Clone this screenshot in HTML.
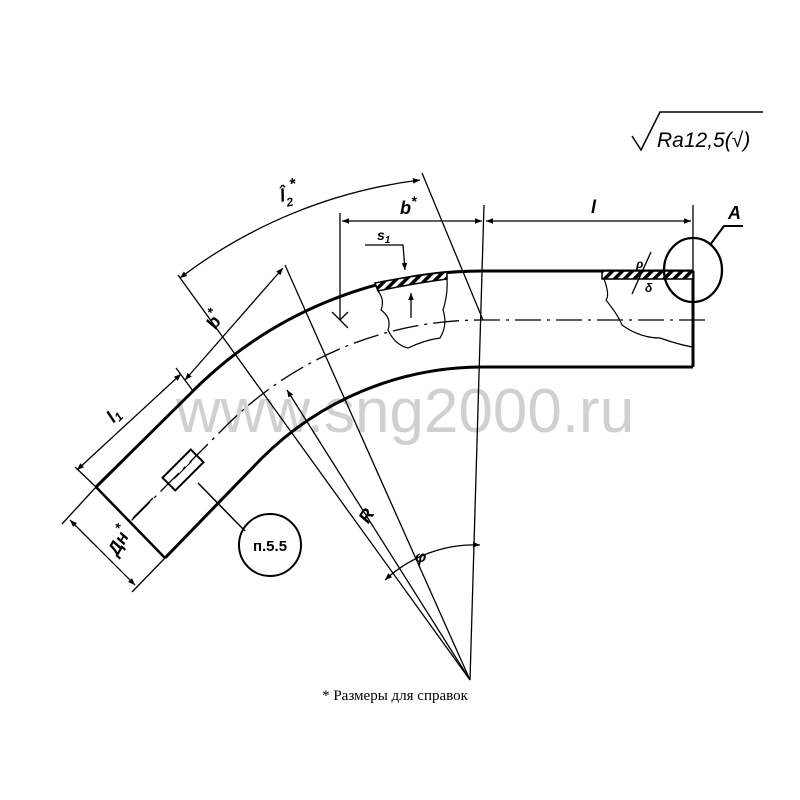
<!DOCTYPE html>
<html><head><meta charset="utf-8"><style>
html,body{margin:0;padding:0;background:#fff;}
svg{display:block}
text{font-family:"Liberation Sans",sans-serif;fill:#000}
</style></head><body>
<svg width="800" height="800" viewBox="0 0 800 800" xmlns="http://www.w3.org/2000/svg">
<defs>
<marker id="ar" viewBox="0 0 10 10" refX="10" refY="5" markerWidth="10" markerHeight="7" orient="auto-start-reverse" markerUnits="userSpaceOnUse"><path d="M0,1 L10,5 L0,9 z" fill="#000"/></marker>
<pattern id="hatch" width="7" height="7" patternUnits="userSpaceOnUse" patternTransform="rotate(45)"><rect width="7" height="7" fill="#fff"/><rect width="3.5" height="7" fill="#000"/></pattern>
</defs>
<!-- watermark -->
<text x="405" y="432" font-size="62" fill="#cfcfcf" style="fill:#d0d0d0" text-anchor="middle">www.sng2000.ru</text>

<g fill="none" stroke="#000">
<!-- pipe outer -->
<path d="M693,271 L482,271 A409,409 0 0 0 193,391 L96,487" stroke-width="3"/>
<path d="M693,367 L482,367 A313,313 0 0 0 261,459 L165,558" stroke-width="3"/>
<path d="M693,271 L693,367" stroke-width="3"/>
<path d="M96,487 L165,558" stroke-width="2.5"/>
<!-- centerline -->
<path d="M705,320 L482,320 A360,360 0 0 0 227,425 L130,522" stroke-width="1.3" stroke-dasharray="26,6,3,6"/>
<!-- vertical axis -->
<path d="M484,205 L470,680" stroke-width="1.3"/>
<!-- radial lines -->
<path d="M178,275 L470,680" stroke-width="1.3"/>
<path d="M285,265 L470,680" stroke-width="1.3"/>
<path d="M422,173 L483,320" stroke-width="1.3"/>
<path d="M287,390 L470,680" stroke-width="1.3" marker-start="url(#ar)"/>
<!-- extension lines -->
<path d="M340,213 L340,320" stroke-width="1.3"/>
<path d="M693,205 L693,271" stroke-width="1.3"/>
<path d="M332,312 L348,328 M340,320 L348,312" stroke-width="1.3"/>
<!-- horizontal dims -->
<path d="M342,221 L482,221" stroke-width="1.3" marker-start="url(#ar)" marker-end="url(#ar)"/>
<path d="M486,221 L691,221" stroke-width="1.3" marker-start="url(#ar)" marker-end="url(#ar)"/>
<!-- l2 arc -->
<path d="M180,278 A497,497 0 0 1 420,180" stroke-width="1.3" marker-start="url(#ar)" marker-end="url(#ar)"/>
<!-- phi arc -->
<path d="M385,580 A132,132 0 0 1 480,545" stroke-width="1.3" marker-start="url(#ar)" marker-end="url(#ar)"/>
<!-- inclined dims -->
<path d="M185,380 L283,268" stroke-width="1.3" marker-start="url(#ar)" marker-end="url(#ar)"/>
<path d="M77,470 L181,374" stroke-width="1.3" marker-start="url(#ar)" marker-end="url(#ar)"/>
<path d="M70,520 L135,585" stroke-width="1.3" marker-start="url(#ar)" marker-end="url(#ar)"/>
<path d="M75,467 L96,487 M165,558 L132,592 M96,487 L62,524" stroke-width="1.3"/>
<path d="M176,368 L193,391" stroke-width="1.3"/>
<!-- hatched wall sections -->
<path d="M375,283 Q410,276 447,272 L447,279 Q410,284 378,291 z" fill="url(#hatch)" stroke-width="1.5"/>
<rect x="602" y="271" width="91" height="8" fill="url(#hatch)" stroke-width="1.5"/>
<!-- breakouts -->
<path d="M378,291 Q385,300 381,310 Q392,318 388,330 Q395,345 408,348 Q425,340 440,338 Q448,325 443,310 Q448,295 447,279" stroke-width="1.2"/>
<path d="M604,279 Q610,295 606,300 Q618,315 622,325 Q640,338 660,338 Q680,345 693,347" stroke-width="1.2"/>
<!-- s1 leader -->
<path d="M365,245 L403,245 L405,270" stroke-width="1.3" marker-end="url(#ar)"/>
<path d="M411,318 L411,293" stroke-width="1.3" marker-end="url(#ar)"/>
<!-- delta marks -->
<path d="M632,294 L651,252" stroke-width="1.3"/>
<!-- circle A -->
<ellipse cx="693" cy="270" rx="29" ry="32" stroke-width="2.3"/>
<path d="M710,245 L724,226 L743,226" stroke-width="2"/>
<!-- rectangle on pipe -->
<g transform="translate(183,470) rotate(-45)">
<rect x="-20" y="-9" width="40" height="18" stroke-width="2"/>
<path d="M-12,0 L12,0" stroke-width="1"/>
</g>
<path d="M198,483 L245,531" stroke-width="1.5"/>
<path d="M153,498 L133,518" stroke-width="1.3"/>
<circle cx="270" cy="545" r="31" stroke-width="2"/>
<!-- sqrt -->
<path d="M632,136 L641,150 L660,112 L763,112" stroke-width="1.5"/>
</g>

<text x="657" y="147" font-size="21" font-style="italic">Ra12,5(√)</text>
<text x="270" y="551" font-size="15" font-weight="bold" text-anchor="middle" font-family="Liberation Serif">п.5.5</text>
<text x="395" y="700" font-size="15" text-anchor="middle" style="font-family:'Liberation Serif',serif">* Размеры для справок</text>

<g font-style="italic" font-weight="bold" font-size="18">
<text x="280" y="200" transform="rotate(-12 290 195)">l̂<tspan font-size="12" dy="6">2</tspan><tspan font-size="16" dy="-16">*</tspan></text>
<text x="400" y="214">b<tspan font-size="14" dy="-8">*</tspan></text>
<text x="591" y="213">l</text>
<text x="728" y="219">A</text>
<text x="377" y="240" font-size="14">s<tspan font-size="10" dy="3">1</tspan></text>
<text x="205" y="325" transform="rotate(-60 215 318)">b<tspan font-size="14" dy="-8">*</tspan></text>
<text x="108" y="420" transform="rotate(-45 115 415)">l<tspan font-size="12" dy="3">1</tspan></text>
<text x="106" y="553" transform="rotate(-60 115 545)">Дн<tspan font-size="14" dy="-8">*</tspan></text>
<text x="360" y="520" transform="rotate(-60 368 515)">R</text>
<text x="415" y="562" font-size="16">φ</text>
<text x="636" y="268" font-size="12">ρ</text>
<text x="645" y="292" font-size="12">δ</text>
</g>
</svg>
</body></html>
